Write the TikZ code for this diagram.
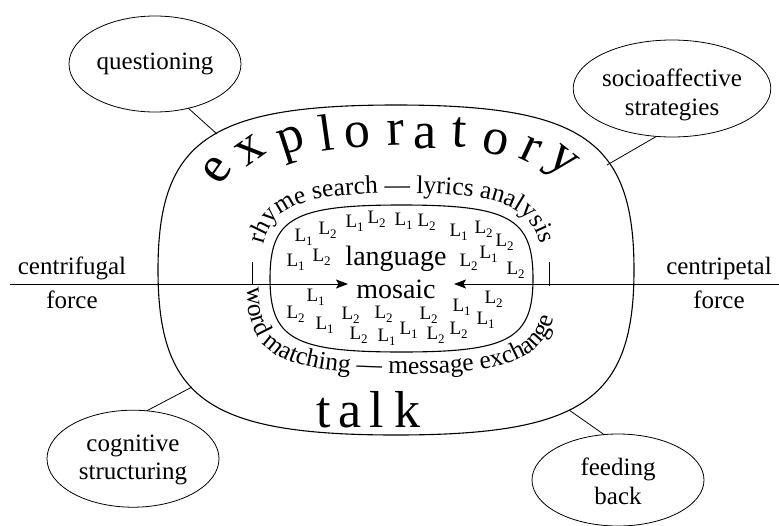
\documentclass[tikz,border=0pt]{standalone}
\usepackage{fontspec}
\setmainfont{Liberation Serif}
\usetikzlibrary{shapes.geometric,arrows.meta,decorations.text}

% L with a small lowered index
\newcommand{\Lsub}[1]{L\raisebox{-4pt}{\fontsize{13}{13}\selectfont #1}}
\newcommand{\ringfont}{\fontsize{25.5}{25.5}\selectfont}

\begin{document}
\begin{tikzpicture}[x=1pt,y=-1pt,
  every node/.style={inner sep=0pt, outer sep=0pt},
  bubble/.style={ellipse, draw, line width=0.8pt, align=center,
    font=\fontsize{25}{28.5}\selectfont},
  tieline/.style={line width=0.8pt},
  rimline/.style={line width=1.1pt},
  labelside/.style={font=\fontsize{25}{25}\selectfont, anchor=base},
  bigletter/.style={font=\fontsize{52}{52}\selectfont, anchor=base},
  coretext/.style={font=\fontsize{28}{28}\selectfont, anchor=base},
  ltag/.style={font=\fontsize{19}{19}\selectfont, anchor=base west},
  pullarrow/.style={line width=0.9pt, -{Stealth[length=12pt,width=9pt,inset=2.5pt]}},
]
\useasboundingbox (0,0) rectangle (779,525);

% outer rounded region
\draw[rimline] (634,270) .. controls (634,140.6) and (582.6,105) .. (396,105)
  .. controls (209.4,105) and (158,140.6) .. (158,270)
  .. controls (158,399.4) and (209.4,435) .. (396,435)
  .. controls (582.6,435) and (634,399.4) .. (634,270) -- cycle;

% inner rounded region
\draw[rimline] (533,278.5) .. controls (533,218) and (509,205) .. (401.5,205)
  .. controls (294,205) and (270,218) .. (270,278.5)
  .. controls (270,339) and (294,352) .. (401.5,352)
  .. controls (509,352) and (533,339) .. (533,278.5) -- cycle;

% curved ring captions
\path[decorate, decoration={text along path, text align=center,
    text={|\ringfont|rhyme search — lyrics analysis}}]
  (261,268) .. controls (261,208) and (293.5,193) .. (401.5,193)
  .. controls (509.5,193) and (542,208) .. (542,268);
\path[decorate, decoration={text along path,
    text={|\ringfont|word matching — message exchange}}]
  (247,287) .. controls (247,355) and (281,374) .. (402,374)
  .. controls (523,374) and (557,355) .. (557,287);

% separators between the ring captions
\coordinate (tl1) at (252,262);
\coordinate (tl2) at (252,285);
\coordinate (tr1) at (549,262);
\coordinate (tr2) at (549,286);
\draw[line width=0.8pt] (tl1) -- (tl2);
\draw[line width=0.8pt] (tr1) -- (tr2);

% big lettering along the outer region
\node[bigletter, rotate=55]  (w1)  at (226.8,176.9) {e};
\node[bigletter, rotate=35]  (w2)  at (256.9,159.8) {x};
\node[bigletter, rotate=18]  (w3)  at (294.7,151.4) {p};
\node[bigletter, rotate=8]   (w4)  at (328.7,150.9) {l};
\node[bigletter, rotate=5]   (w5)  at (358.0,147.0) {o};
\node[bigletter, rotate=2]   (w6)  at (396.4,145.0) {r};
\node[bigletter]             (w7)  at (425,148)     {a};
\node[bigletter, rotate=-3]  (w8)  at (458.4,147.0) {t};
\node[bigletter, rotate=-12] (w9)  at (493.5,154.7) {o};
\node[bigletter, rotate=-25] (w10) at (524.9,160.9) {r};
\node[bigletter, rotate=-38] (w11) at (555.6,169.5) {y};

\node[bigletter] (k1) at (324,427) {t};
\node[bigletter] (k2) at (350,427) {a};
\node[bigletter] (k3) at (377,427) {l};
\node[bigletter] (k4) at (407,427) {k};

% centre words
\node[coretext] (language) at (396,265) {language};
\node[coretext] (mosaic) at (396,298) {mosaic};

% scattered L1 / L2 tags
\node[ltag] (n1)  at (345.5,227) {\Lsub{1}};
\node[ltag] (n2)  at (367.5,223) {\Lsub{2}};
\node[ltag] (n3)  at (394.5,225) {\Lsub{1}};
\node[ltag] (n4)  at (417.5,226) {\Lsub{2}};
\node[ltag] (n5)  at (449.5,236) {\Lsub{1}};
\node[ltag] (n6)  at (474.5,233) {\Lsub{2}};
\node[ltag] (n7)  at (495.5,246) {\Lsub{2}};
\node[ltag] (n8)  at (294.5,241) {\Lsub{1}};
\node[ltag] (n9)  at (318.5,234) {\Lsub{2}};
\node[ltag] (n10) at (286.5,266) {\Lsub{1}};
\node[ltag] (n11) at (312.5,261) {\Lsub{2}};
\node[ltag] (n12) at (459.5,266) {\Lsub{2}};
\node[ltag] (n13) at (479.5,258) {\Lsub{1}};
\node[ltag] (n14) at (506.5,274) {\Lsub{2}};
\node[ltag] (n15) at (306.5,301) {\Lsub{1}};
\node[ltag] (n16) at (286.5,318) {\Lsub{2}};
\node[ltag] (n17) at (315.5,329) {\Lsub{1}};
\node[ltag] (n18) at (341.5,319) {\Lsub{2}};
\node[ltag] (n19) at (374.5,318) {\Lsub{2}};
\node[ltag] (n20) at (349.5,339) {\Lsub{2}};
\node[ltag] (n21) at (377.5,341) {\Lsub{1}};
\node[ltag] (n22) at (399.5,334) {\Lsub{1}};
\node[ltag] (n23) at (419.5,319) {\Lsub{2}};
\node[ltag] (n24) at (426.5,339) {\Lsub{2}};
\node[ltag] (n25) at (449.5,334) {\Lsub{2}};
\node[ltag] (n26) at (452.5,311) {\Lsub{1}};
\node[ltag] (n27) at (476.5,324) {\Lsub{1}};
\node[ltag] (n28) at (484.5,303) {\Lsub{2}};

% forces
\coordinate (lend) at (10,284);
\coordinate (ltip) at (348,284);
\coordinate (rend) at (779,284);
\coordinate (rtip) at (454,284);
\draw[pullarrow] (lend) -- (ltip);
\draw[pullarrow] (rend) -- (rtip);

\node[labelside] (cf1) at (72,274) {centrifugal};
\node[labelside] (cf2) at (72,308) {force};
\node[labelside] (cp1) at (719,274) {centripetal};
\node[labelside] (cp2) at (719,308) {force};

% surrounding strategies
\node[bubble, minimum width=172pt, minimum height=96pt] (q) at (155,64) {questioning};
\node[bubble, minimum width=194pt, minimum height=97pt, text height=58pt, text depth=5pt]
  (s) at (672,88.5) {socioaffective\\strategies};
\node[bubble, minimum width=172pt, minimum height=97pt, text height=47pt, text depth=5pt]
  (c) at (133,458.7) {cognitive\\structuring};
\node[bubble, minimum width=172pt, minimum height=92pt, text height=53pt, text depth=5pt]
  (f) at (618,480) {feeding\\back};

\coordinate (qa) at (217,134);
\coordinate (sa) at (607,165);
\coordinate (ca) at (192,387);
\coordinate (fa) at (569,410);
\draw[tieline] (q.-53) -- (qa);
\draw[tieline] (s.-108) -- (sa);
\draw[tieline] (c.74) -- (ca);
\draw[tieline] (f.107) -- (fa);

\end{tikzpicture}
\end{document}
